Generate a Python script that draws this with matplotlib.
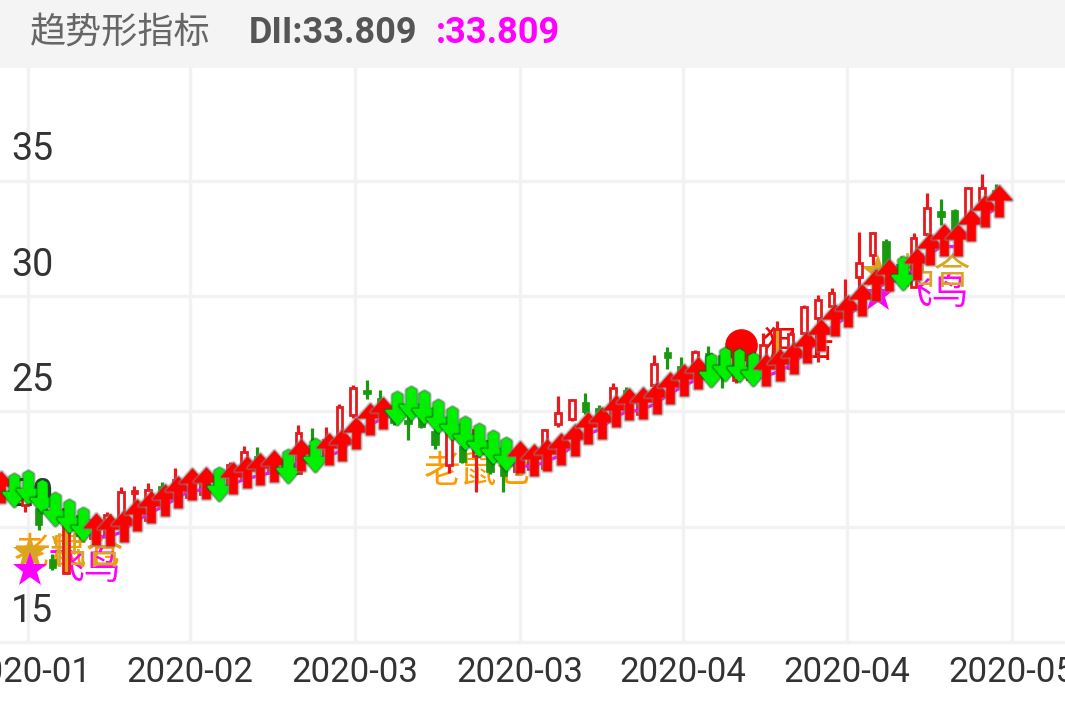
import matplotlib
matplotlib.use("Agg")
import matplotlib.pyplot as plt
from matplotlib.path import Path
from matplotlib.patches import Rectangle
from matplotlib.transforms import ScaledTranslation, offset_copy

CJK = ['Noto Sans CJK SC', 'DejaVu Sans']
plt.rcParams['font.family'] = ['Roboto', 'Noto Sans CJK SC', 'DejaVu Sans']

bars = list(range(-2, 72))
dii = [21.4, 21.3, 21.4, 21.05, 20.45, 20.15, 19.8, 19.6, 19.55, 19.75,
       20.2, 20.55, 20.85, 21.2, 21.55, 21.6, 21.55, 21.8, 22.05, 22.2,
       22.35, 22.35, 22.8, 22.8, 23.05, 23.25, 23.75, 24.35, 24.65, 24.85,
       25.05, 24.9, 24.5, 24.2, 23.75, 23.45, 23.15, 22.85, 22.7, 22.6,
       22.8, 23.05, 23.45, 24.0, 24.2, 24.7, 25.0, 25.05, 25.3, 25.7,
       26.05, 26.35, 26.5, 26.75, 26.7, 26.55, 26.5, 26.7, 27.0, 27.5,
       28.0, 28.65, 29.05, 29.55, 30.2, 30.6, 30.7, 31.1, 31.75, 32.15,
       32.15, 32.8, 33.4, 33.81]
falling = [-1, 0, 1, 2, 3, 4, 14, 19, 21, 27, 28, 29, 30, 31, 32, 33, 34, 35,
           50, 51, 52, 53, 64]

opens = [21.2, 21.6, 20.94, 20.81, 18.6, 17.99, 20.5, 19.5, 19.64, 20.0,
         21.45, 20.3, 21.77, 21.16, 21.3, 21.4, 22.0, 21.8, 22.03, 23.07,
         22.46, 22.9, 22.33, 23.55, 22.9, 23.76, 24.85, 25.93, 25.59, 25.3,
         24.63, 25.3, 24.15, 22.68, 23.5, 23.07, 23.76, 23.11, 22.4, 22.5,
         22.55, 24.46, 24.67, 25.41, 25.15, 24.7, 25.93, 24.9, 26.15, 27.58,
         26.97, 26.58, 27.54, 27.45, 26.37, 26.4, 26.5, 27.02, 26.9, 28.41,
         29.06, 29.58, 29.3, 30.83, 31.79, 32.4, 31.4, 30.4, 32.7, 33.7,
         33.74, 33.52, 34.18, 34.6]
closes = [21.6, 21.3, 21.38, 20.08, 18.2, 20.77, 19.6, 20.3, 20.51, 21.5,
          21.55, 21.59, 20.94, 22.03, 21.95, 22.0, 21.5, 22.68, 23.24, 22.46,
          22.9, 22.3, 24.07, 22.9, 23.76, 25.2, 26.02, 25.76, 25.07, 24.5,
          24.46, 24.33, 23.55, 24.2, 22.81, 24.2, 22.38, 22.2, 23.3, 23.2,
          24.2, 24.93, 25.5, 24.98, 24.4, 26.02, 25.5, 25.6, 27.06, 27.32,
          26.37, 27.58, 26.58, 26.58, 27.45, 27.3, 27.9, 28.58, 28.36, 29.53,
          29.84, 30.14, 29.6, 31.44, 32.74, 31.14, 30.8, 32.53, 33.83, 33.44,
          32.87, 34.7, 34.7, 34.18]
highs = [21.7, 21.7, 21.5, 20.9, 18.8, 20.9, 20.6, 20.4, 20.64, 21.72,
         21.75, 21.9, 21.94, 22.55, 22.1, 22.1, 22.1, 22.8, 23.5, 23.46,
         23.0, 23.0, 24.41, 24.28, 24.33, 25.33, 26.15, 26.37, 25.93, 25.4,
         25.3, 25.4, 24.3, 24.4, 23.7, 24.3, 23.9, 23.2, 23.4, 23.3,
         24.25, 25.67, 25.55, 25.8, 25.28, 26.24, 26.06, 25.7, 27.45, 27.8,
         27.36, 27.67, 27.84, 27.5, 27.5, 27.4, 28.4, 28.93, 28.5, 29.62,
         30.05, 30.36, 30.75, 32.79, 32.8, 32.48, 31.5, 32.74, 34.48, 34.2,
         33.8, 34.75, 35.3, 34.87]
lows = [21.1, 21.2, 20.64, 19.86, 18.12, 17.99, 19.5, 19.4, 19.5, 19.9,
        20.73, 20.2, 20.73, 21.1, 21.2, 21.3, 21.4, 21.7, 21.95, 22.3,
        22.4, 22.2, 22.3, 22.8, 22.8, 23.7, 24.72, 25.54, 25.0, 24.4,
        23.76, 24.3, 23.37, 22.33, 22.75, 21.51, 22.3, 21.51, 22.3, 22.4,
        22.5, 24.33, 24.6, 24.9, 24.3, 24.6, 25.4, 24.8, 26.1, 26.84,
        26.3, 26.5, 26.5, 26.02, 26.24, 26.3, 26.15, 26.9, 26.8, 28.3,
        27.15, 29.5, 29.2, 29.84, 31.36, 31.1, 30.7, 30.4, 32.6, 33.09,
        32.8, 33.4, 34.1, 34.1]
gold_bars = [3, 55]

y_ticks = [15, 20, 25, 30, 35]
x_ticks = [0.22, 12.07, 24.14, 36.2, 48.1, 60.1, 72.2]
x_labels = ['2020-01', '2020-02', '2020-03', '2020-03', '2020-04', '2020-04', '2020-05']

star_bars = [0, 0, 62, 62]
star_values = [18.86, 18.12, 31.05, 30.05]
star_colors = ['#DAA520', '#FF00FF', '#DAA520', '#FF00FF']

circle_bar = 52
circle_value = 27.89

labels = [
    ('老鼠仓', 3, 18.86, 3, '#FF9900'),
    ('飞鸟', 0, 18.2, 59, '#FF00FF'),
    ('粘合', 0, 18.86, 61, '#DAA520'),
    ('老鼠仓', 33, 22.38, 3, '#FF9900'),
    ('狙击', 54, 27.8, 35, '#FF0000'),
    ('飞鸟', 62, 30.1, 60, '#FF00FF'),
    ('粘合', 62, 31.0, 61, '#DAA520'),
]

W, H = 1065, 708
fig = plt.figure(figsize=(W / 100, H / 100), dpi=100, facecolor='white')
fig.add_artist(Rectangle((0, 1 - 68 / H), 1, 68 / H, transform=fig.transFigure,
                         facecolor='#F4F4F5', edgecolor='none', zorder=0))

ax = fig.add_axes([0, 1 - 642 / H, 1, (642 - 68) / H])
ax.set_xlim(-1.83, 76.08)
ax.set_ylim(15, 39.9)
for s in ax.spines.values():
    s.set_visible(False)
ax.set_axisbelow(True)
ax.grid(True, color='#F2F2F4', linewidth=2.4)
for gl in ax.get_xgridlines() + ax.get_ygridlines():
    gl.set_clip_on(False)

ax.set_xticks(x_ticks)
ax.set_xticklabels(x_labels, fontsize=25, color='#333333')
ax.set_yticks(y_ticks)
ax.set_yticklabels([str(v) for v in y_ticks], fontsize=27, color='#333333')
ax.tick_params(axis='both', length=0)
ax.tick_params(axis='x', pad=10)
ax.tick_params(axis='y', pad=0)
shift = ScaledTranslation(11 / 100, 31 / 100, fig.dpi_scale_trans)
for lab in ax.get_yticklabels():
    lab.set_ha('left')
    lab.set_va('center')
    lab.set_transform(lab.get_transform() + shift)

# signal text and icons
for txt, b, v, dx, col in labels:
    ax.annotate(txt, xy=(b, v), xytext=(dx * 0.72, 0), textcoords='offset points',
                ha='center', va='center', fontsize=26.5, color=col, family=CJK, zorder=2)
star_tr = offset_copy(ax.transData, fig, x=5 * 0.72, y=0, units='points')
for b, v, c in zip(star_bars, star_values, star_colors):
    ax.plot([b], [v], marker='*', ms=26, mfc=c, mec=c, mew=0, ls='none',
            transform=star_tr, zorder=2.5)
ax.plot([circle_bar], [circle_value], marker='o', ms=23.5, mfc='#FF0000', mec='none',
        ls='none', transform=star_tr, zorder=2.5)

# candles
RED, GREEN, GOLD = '#E8191C', '#18990E', '#DAA520'
for b, o, c, h, l in zip(bars, opens, closes, highs, lows):
    rising = c >= o
    col = RED if rising else GREEN
    ax.vlines(b, l, h, color=col, linewidth=2.3, zorder=3)
    if rising:
        face = GOLD if b in gold_bars else 'white'
        ax.bar(b, c - o, bottom=o, width=0.42, facecolor=face, edgecolor=col,
               linewidth=2.0, zorder=3.1)
    else:
        ax.bar(b, o - c, bottom=c, width=0.55, facecolor=col, edgecolor=col,
               linewidth=0.5, zorder=3.1)

# DII line
ax.plot(bars, dii, color='#FF00FF', linewidth=2.4, zorder=3.5)

# arrows
up_arrow = Path([(0, 1), (0.8, 0.1), (0.24, 0.1), (0.24, -1), (-0.24, -1),
                 (-0.24, 0.1), (-0.8, 0.1), (0, 1)], closed=True)
down_arrow = Path([(0, -1), (0.72, -0.15), (0.26, -0.15), (0.26, 0.85), (0, 1), (-0.26, 0.85),
                   (-0.26, -0.15), (-0.72, -0.15), (0, -1)], closed=True)
arrow_tr = offset_copy(ax.transData, fig, x=3 * 0.72, y=7 * 0.72, units='points')
for z, (b, v) in enumerate(zip(bars, dii)):
    if b in falling:
        mk, face, shade, edge = down_arrow, '#00F000', '#0A6A12', 1.6
    else:
        mk, face, shade, edge = up_arrow, '#FF0000', '#808080', 0.8
    zo = 4 + z * 0.001
    ax.plot([b], [v], marker=mk, ms=22, mfc=shade, mec=shade, mew=edge + 3.0, alpha=0.3,
            ls='none', transform=arrow_tr, zorder=zo)
    ax.plot([b], [v], marker=mk, ms=22, mfc=shade, mec=shade, mew=edge + 1.4, alpha=0.6,
            ls='none', transform=arrow_tr, zorder=zo + 0.0001)
    ax.plot([b], [v], marker=mk, ms=22, mfc=face, mec=face, mew=edge,
            ls='none', transform=arrow_tr, zorder=zo + 0.0002)

# header
fig.text(30 / W, 1 - 33 / H, '趋势形指标', fontsize=26, color='#666666', family=CJK,
         ha='left', va='center')
fig.text(249 / W, 1 - 33 / H, 'DII:33.809', fontsize=26, color='#555555', family='Roboto',
         fontweight='bold', ha='left', va='center')
fig.text(436 / W, 1 - 33 / H, ':33.809', fontsize=26, color='#FF00FF', family='Roboto',
         fontweight='bold', ha='left', va='center')

fig.savefig('out.png', dpi=100, facecolor='white')
